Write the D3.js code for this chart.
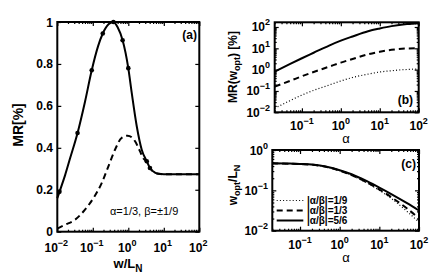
<!DOCTYPE html>
<html><head><meta charset="utf-8">
<script src="https://cdn.jsdelivr.net/npm/d3@7"></script>
<style>
body{margin:0;background:#fff;}
text{font-family:"Liberation Sans",Arial,Helvetica,sans-serif;}
</style></head>
<body><svg id="c" width="436" height="273"></svg>
<script>
// ---------- Data ----------
// Panel (a): MR[%] vs w/L_N
const aSolidX = [0.01,0.0115,0.0166,0.0229,0.0372,0.0603,0.0933,0.141,0.191,0.282,0.38,0.501,0.692,1.0,1.25,1.73,2.39,3.31,4.07,5.62,7.08,10,31.6,100];
const aSolidY = [0.16,0.19,0.27,0.35,0.471,0.62,0.77,0.885,0.945,0.99,1.0,0.975,0.913,0.78,0.662,0.503,0.391,0.336,0.304,0.282,0.276,0.274,0.274,0.274];
const aDashX = [0.01,0.0166,0.0316,0.0603,0.105,0.178,0.275,0.422,0.646,0.955,1.55,2.14,2.63,3.31,4.07,5.62,7.08,10,31.6,100];
const aDashY = [0.015,0.033,0.057,0.105,0.161,0.232,0.312,0.391,0.447,0.458,0.431,0.383,0.35,0.334,0.304,0.282,0.276,0.274,0.274,0.274];
const aMarkX = [0.0115,0.0372,0.0933,0.191,0.38,0.692,1.0,3.31,4.07];
const aMarkY = [0.19,0.471,0.77,0.945,1.0,0.913,0.78,0.336,0.304];
const aYTicks = [0,0.2,0.4,0.6,0.8,1];
const aYTickLabels = ["0","0.2","0.4","0.6","0.8","1"];
const aXTicks = [0.01,0.1,1,10,100];
const aXExps = ["\u22122","\u22121","0","1","2"];
const aNote = "\u03b1=1/3, \u03b2=\u00b11/9";

// Panels (b),(c): versus alpha
const alphaX = [0.02,0.05,0.1,0.2,0.5,1,2,5,10,20,50,100];
const bSolid  = [0.81,1.86,3.43,6.2,13.5,22.9,36,63,85,110,138,151];
const bDash   = [0.162,0.30,0.49,0.78,1.38,2.14,3.16,5.25,6.9,8.5,9.8,10];
const bDot    = [0.0155,0.0355,0.0645,0.107,0.19,0.295,0.427,0.617,0.776,0.89,1.02,1.07];
const cSolid  = [0.468,0.462,0.452,0.437,0.38,0.316,0.251,0.166,0.117,0.081,0.048,0.0316];
const cDash   = [0.462,0.457,0.447,0.432,0.375,0.309,0.24,0.155,0.105,0.0676,0.0355,0.020];
const cDot    = [0.462,0.457,0.447,0.432,0.375,0.309,0.234,0.151,0.100,0.063,0.030,0.0162];
const bcXTicks = [0.1,1,10,100];
const bcXExps = ["\u22121","0","1","2"];
const bYTicks = [0.01,0.1,1,10,100];
const bYExps = ["\u22122","\u22121","0","1","2"];
const cYTicks = [0.01,0.1,1];
const cYExps = ["\u22122","\u22121","0"];
const legendLabels = ["|\u03b1/\u03b2|=1/9","|\u03b1/\u03b2|=1/3","|\u03b1/\u03b2|=5/6"];

// ---------- Drawing ----------
const svg = d3.select("#c");
const FS = 12, SUP = 9;
const styles = {solid:null, dash:"6,4", dot:"1,2.2"};

function minorTicks(domain){
  const out=[];
  const lo=Math.floor(Math.log10(domain[0])), hi=Math.ceil(Math.log10(domain[1]));
  for(let e=lo;e<hi;e++) for(let m=2;m<=9;m++){const v=m*Math.pow(10,e); if(v>=domain[0]&&v<=domain[1]) out.push(v);}
  return out;
}
function tickAxis(g, axisFn, scale, vals, size, tr){
  const ax = axisFn(scale).tickValues(vals).tickSize(size).tickFormat("");
  const gg = g.append("g").attr("transform",tr).call(ax);
  gg.select(".domain").remove();
  gg.selectAll("line").attr("stroke","#000").attr("stroke-width",1.2);
}
function frame(g,x,y){
  const [x0,x1]=x.range(), [y0,y1]=y.range();
  g.append("rect").attr("x",x0).attr("y",y1).attr("width",x1-x0).attr("height",y0-y1)
    .attr("fill","none").attr("stroke","#000").attr("stroke-width",2);
}
function powLabelX(g, x, yBase, ticks, exps, shift){
  ticks.forEach((t,i)=>{
    const tx = g.append("text").attr("x",x(t)+(shift||0)).attr("y",yBase).attr("text-anchor","middle")
      .attr("font-size",FS).attr("font-weight","bold");
    tx.append("tspan").text("10");
    tx.append("tspan").attr("dy",-6).attr("font-size",SUP).text(exps[i]);
  });
}
function powLabelY(g, y, xRight, ticks, exps){
  ticks.forEach((t,i)=>{
    const tx = g.append("text").attr("x",xRight).attr("y",y(t)+4.5).attr("text-anchor","end")
      .attr("font-size",FS).attr("font-weight","bold");
    tx.append("tspan").text("10");
    tx.append("tspan").attr("dy",-6).attr("font-size",SUP).text(exps[i]);
  });
}
function drawLine(g,x,y,xs,ys,style,w){
  const pts = xs.map((v,i)=>[v,ys[i]]);
  g.append("path").datum(pts)
    .attr("d", d3.line().x(d=>x(d[0])).y(d=>y(d[1])).curve(d3.curveMonotoneX))
    .attr("fill","none").attr("stroke","#000").attr("stroke-width",w||2)
    .attr("stroke-dasharray",styles[style]);
}

// ----- Panel (a)
const gA = svg.append("g");
const xA = d3.scaleLog().domain([0.01,100]).range([57.3,199.3]);
const yA = d3.scaleLinear().domain([0,1]).range([231.7,22]);
drawLine(gA,xA,yA,aDashX,aDashY,"dash");
drawLine(gA,xA,yA,aSolidX,aSolidY,"solid");
gA.selectAll("circle.m").data(aMarkX).enter().append("circle")
  .attr("cx",d=>xA(d)).attr("cy",(d,i)=>yA(aMarkY[i])).attr("r",2.3).attr("fill","#000");
const [a0,a1]=yA.range();
tickAxis(gA,d3.axisBottom,xA,aXTicks,-4,`translate(0,${a0})`);
tickAxis(gA,d3.axisTop,xA,aXTicks,-4,`translate(0,${a1})`);
tickAxis(gA,d3.axisBottom,xA,minorTicks(xA.domain()),-2,`translate(0,${a0})`);
tickAxis(gA,d3.axisTop,xA,minorTicks(xA.domain()),-2,`translate(0,${a1})`);
tickAxis(gA,d3.axisLeft,yA,aYTicks,-4,`translate(${xA.range()[0]},0)`);
tickAxis(gA,d3.axisRight,yA,aYTicks,-4,`translate(${xA.range()[1]},0)`);
frame(gA,xA,yA);
aYTicks.forEach((t,i)=>gA.append("text").attr("x",53).attr("y",yA(t)+4.5).attr("text-anchor","end")
  .attr("font-size",FS).attr("font-weight","bold").text(aYTickLabels[i]));
powLabelX(gA,xA,251.5,aXTicks,aXExps,-1);
gA.append("text").attr("transform","translate(23,125) rotate(-90)").attr("text-anchor","middle")
  .attr("font-size",14).attr("font-weight","bold").text("MR[%]");
{const t=gA.append("text").attr("x",128).attr("y",267.5).attr("text-anchor","middle").attr("font-size",13).attr("font-weight","bold");
 t.append("tspan").text("w/L"); t.append("tspan").attr("dy",4).attr("font-size",10).text("N");}
gA.append("text").attr("x",197).attr("y",39).attr("text-anchor","end").attr("font-size",12).attr("font-weight","bold").text("(a)");
gA.append("text").attr("x",110).attr("y",215).attr("font-size",11).text(aNote);

// ----- Panel (b)
const gB = svg.append("g");
const xB = d3.scaleLog().domain([0.02,100]).range([274.7,418.7]);
const yB = d3.scaleLog().domain([0.01,166]).range([112.3,22.3]);
drawLine(gB,xB,yB,alphaX,bDot,"dot",1.2);
drawLine(gB,xB,yB,alphaX,bDash,"dash");
drawLine(gB,xB,yB,alphaX,bSolid,"solid");
{const [b0,b1]=yB.range(), [bx0,bx1]=xB.range();
 tickAxis(gB,d3.axisBottom,xB,bcXTicks,-4,`translate(0,${b0})`);
 tickAxis(gB,d3.axisTop,xB,bcXTicks,-4,`translate(0,${b1})`);
 tickAxis(gB,d3.axisBottom,xB,minorTicks(xB.domain()),-2,`translate(0,${b0})`);
 tickAxis(gB,d3.axisTop,xB,minorTicks(xB.domain()),-2,`translate(0,${b1})`);
 tickAxis(gB,d3.axisLeft,yB,bYTicks,-4,`translate(${bx0},0)`);
 tickAxis(gB,d3.axisRight,yB,bYTicks,-4,`translate(${bx1},0)`);
 tickAxis(gB,d3.axisLeft,yB,minorTicks(yB.domain()),-2,`translate(${bx0},0)`);
 tickAxis(gB,d3.axisRight,yB,minorTicks(yB.domain()),-2,`translate(${bx1},0)`);}
frame(gB,xB,yB);
powLabelY(gB,yB,270,bYTicks,bYExps);
powLabelX(gB,xB,130,bcXTicks,bcXExps,0);
gB.append("text").attr("x",346).attr("y",143).attr("text-anchor","middle").attr("font-size",13).text("\u03b1");
{const t=gB.append("text").attr("transform","translate(237,67) rotate(-90)").attr("text-anchor","middle").attr("font-size",12).attr("font-weight","bold");
 t.append("tspan").text("MR(w"); t.append("tspan").attr("dy",3).attr("font-size",9).text("opt");
 t.append("tspan").attr("dy",-3).text(") [%]");}
gB.append("text").attr("x",413).attr("y",104).attr("text-anchor","end").attr("font-size",12).attr("font-weight","bold").text("(b)");

// ----- Panel (c)
const gC = svg.append("g");
const xC = d3.scaleLog().domain([0.02,100]).range([272.3,419]);
const yC = d3.scaleLog().domain([0.01,1]).range([230.7,150]);
drawLine(gC,xC,yC,alphaX,cDot,"dot",1.2);
drawLine(gC,xC,yC,alphaX,cDash,"dash");
drawLine(gC,xC,yC,alphaX,cSolid,"solid");
{const [c0,c1]=yC.range(), [cx0,cx1]=xC.range();
 tickAxis(gC,d3.axisBottom,xC,bcXTicks,-4,`translate(0,${c0})`);
 tickAxis(gC,d3.axisTop,xC,bcXTicks,-4,`translate(0,${c1})`);
 tickAxis(gC,d3.axisBottom,xC,minorTicks(xC.domain()),-2,`translate(0,${c0})`);
 tickAxis(gC,d3.axisTop,xC,minorTicks(xC.domain()),-2,`translate(0,${c1})`);
 tickAxis(gC,d3.axisLeft,yC,cYTicks,-4,`translate(${cx0},0)`);
 tickAxis(gC,d3.axisRight,yC,cYTicks,-4,`translate(${cx1},0)`);
 tickAxis(gC,d3.axisLeft,yC,minorTicks(yC.domain()),-2,`translate(${cx0},0)`);
 tickAxis(gC,d3.axisRight,yC,minorTicks(yC.domain()),-2,`translate(${cx1},0)`);}
frame(gC,xC,yC);
powLabelY(gC,yC,268,cYTicks,cYExps);
powLabelX(gC,xC,249,bcXTicks,bcXExps,0);
gC.append("text").attr("x",346).attr("y",262).attr("text-anchor","middle").attr("font-size",13).text("\u03b1");
{const t=gC.append("text").attr("transform","translate(237,185) rotate(-90)").attr("text-anchor","middle").attr("font-size",12).attr("font-weight","bold");
 t.append("tspan").text("w"); t.append("tspan").attr("dy",3).attr("font-size",9).text("opt");
 t.append("tspan").attr("dy",-3).text("/L"); t.append("tspan").attr("dy",3).attr("font-size",9).text("N");}
gC.append("text").attr("x",416).attr("y",168).attr("text-anchor","end").attr("font-size",12).attr("font-weight","bold").text("(c)");
// legend
const legStyles=["dot","dash","solid"], legW=[1.2,2,2], legY=[200.5,210.5,220.5];
legStyles.forEach((s,i)=>{
  gC.append("line").attr("x1",276.7).attr("x2",303.3).attr("y1",legY[i]).attr("y2",legY[i])
    .attr("stroke","#000").attr("stroke-width",legW[i]).attr("stroke-dasharray",styles[s]);
  gC.append("text").attr("x",307).attr("y",legY[i]+3.5).attr("font-size",10).attr("font-weight","bold").text(legendLabels[i]);
});
</script></body></html>
